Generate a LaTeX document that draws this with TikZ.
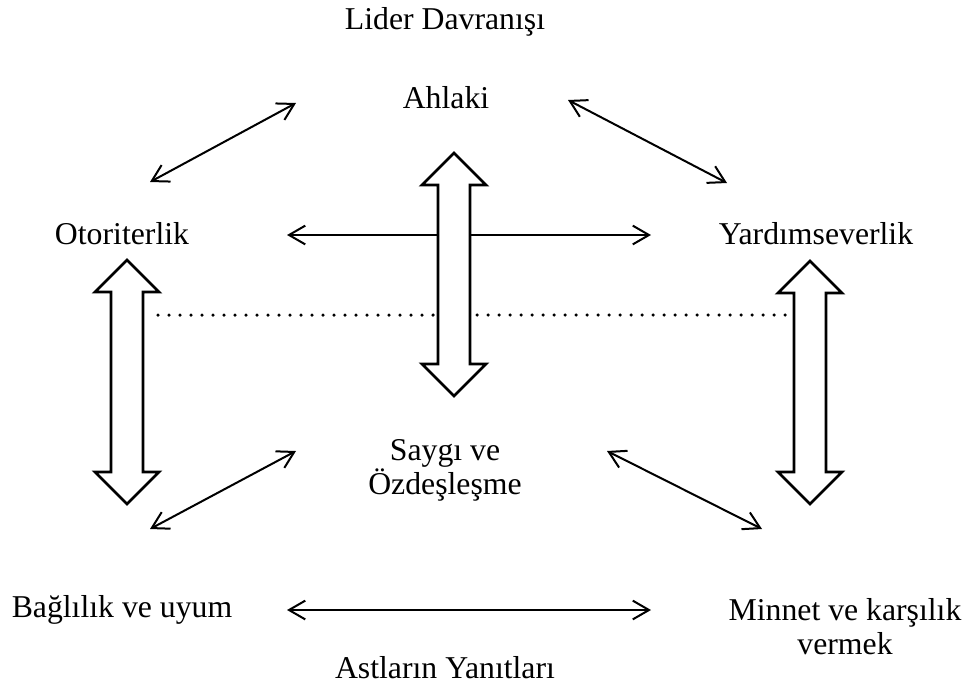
\documentclass[tikz,border=0pt]{standalone}
\usepackage{fontspec}
\setmainfont{Liberation Serif}
\usetikzlibrary{arrows.meta}
\usetikzlibrary{positioning}

% hollow double block arrow: centre x, top tip y, bottom tip y
\newcommand{\blockarrow}[3]{%
  \draw[blockline] (#1,#2) -- (#1+32,#2+32) -- (#1+16,#2+32) -- (#1+16,#3-32)
    -- (#1+32,#3-32) -- (#1,#3) -- (#1-32,#3-32) -- (#1-16,#3-32)
    -- (#1-16,#2+32) -- (#1-32,#2+32) -- cycle;}

\begin{document}
\begin{tikzpicture}[x=0.4pt, y=-0.4pt,
    label/.style={align=center, font=\fontsize{12.7}{13.6}\selectfont, inner sep=1pt},
    thinarrow/.style={{Straight Barb[length=6.5pt,width=7.5pt]}-{Straight Barb[length=6.5pt,width=7.5pt]}, line width=0.8pt},
    blockline/.style={draw=black, fill=white, line width=1.1pt, line join=miter}]
        \useasboundingbox (0,0) rectangle (972,688);

        \node[label] (lider) at (445,22) {Lider Davranışı};
        \node[label] (ahlaki) at (446,98) {Ahlaki};
        \node[label] (otor) at (122,234) {Otoriterlik};
        \node[label] (yardim) at (816,234) {Yardımseverlik};
        \node[label] (saygi) at (445,470) {Saygı ve\\Özdeşleşme};
        \node[label] (bagli) at (122,610) {Bağlılık ve uyum};
        \node[label] (minnet) at (845,627) {Minnet ve karşılık\\vermek};
        \node[label] (astlar) at (445,668) {Astların Yanıtları};

        \coordinate (oa1) at (150,182);
        \coordinate (oa2) at (296,103);
        \coordinate (ay1) at (568,100);
        \coordinate (ay2) at (727,183);
        \coordinate (oy1) at (287,235);
        \coordinate (oy2) at (651,235);
        \coordinate (bs1) at (150,529);
        \coordinate (bs2) at (296,451);
        \coordinate (sm1) at (607,451);
        \coordinate (sm2) at (762,529);
        \coordinate (bm1) at (287,610);
        \coordinate (bm2) at (651,610);
        \coordinate (dot1) at (158,315);
        \coordinate (dot2) at (795,315);

        \draw[thinarrow] (oa1) -- (oa2);
        \draw[thinarrow] (ay1) -- (ay2);
        \draw[thinarrow] (oy1) -- (oy2);
        \draw[thinarrow] (bs1) -- (bs2);
        \draw[thinarrow] (sm1) -- (sm2);
        \draw[thinarrow] (bm1) -- (bm2);
        \draw[line width=1.4pt, line cap=round, dash pattern=on 0pt off 4.4pt] (dot1) -- (dot2);

        \blockarrow{454}{153}{396}
        \blockarrow{127}{260}{504}
        \blockarrow{810}{261}{504}
    \end{tikzpicture}
\end{document}
